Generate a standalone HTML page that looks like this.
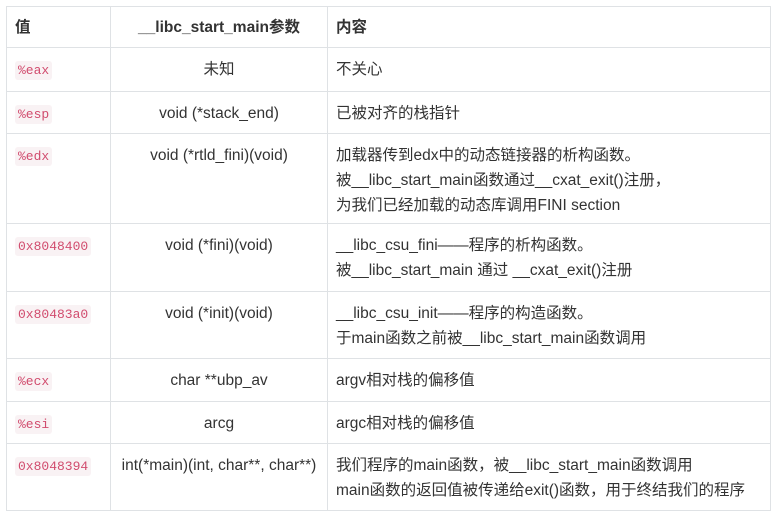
<!DOCTYPE html>
<html><head><meta charset="utf-8"><style>
html,body{margin:0;padding:0;background:#fff;width:775px;height:518px;overflow:hidden}
table{position:absolute;left:6px;top:6px;border-collapse:collapse;font-family:"Liberation Sans","Noto Sans CJK SC",sans-serif;font-size:15.5px;color:#333;table-layout:fixed;width:764px}
td,th{border:1px solid #dfe2e5;padding:9px 8px 0 8px;line-height:25px;vertical-align:top;white-space:nowrap;overflow:hidden;box-sizing:border-box}
th{font-weight:bold;height:41px;vertical-align:middle;padding:0 8px}
td.c,th.c{text-align:center}
th.l{text-align:left}
code{font-family:"Liberation Mono",monospace;font-size:13px;color:#d14c6e;background:#f9f2f4;padding:2px 3px;border-radius:3px}
</style></head><body>
<table>
<colgroup><col style="width:104px"><col style="width:217px"><col style="width:443px"></colgroup>
<tr style="height:41px"><th class="l">值</th><th class="c">__libc_start_main参数</th><th class="l">内容</th></tr>
<tr style="height:44px"><td><code>%eax</code></td><td class="c">未知</td><td>不关心</td></tr>
<tr style="height:42px"><td><code>%esp</code></td><td class="c">void (*stack_end)</td><td>已被对齐的栈指针</td></tr>
<tr style="height:90px"><td><code>%edx</code></td><td class="c">void (*rtld_fini)(void)</td><td>加载器传到edx中的动态链接器的析构函数。<br>被__libc_start_main函数通过__cxat_exit()注册，<br>为我们已经加载的动态库调用FINI section</td></tr>
<tr style="height:68px"><td><code>0x8048400</code></td><td class="c">void (*fini)(void)</td><td>__libc_csu_fini——程序的析构函数。<br>被__libc_start_main 通过 __cxat_exit()注册</td></tr>
<tr style="height:67px"><td><code>0x80483a0</code></td><td class="c">void (*init)(void)</td><td>__libc_csu_init——程序的构造函数。<br>于main函数之前被__libc_start_main函数调用</td></tr>
<tr style="height:43px"><td><code>%ecx</code></td><td class="c">char **ubp_av</td><td>argv相对栈的偏移值</td></tr>
<tr style="height:42px"><td><code>%esi</code></td><td class="c">arcg</td><td>argc相对栈的偏移值</td></tr>
<tr style="height:67px"><td><code>0x8048394</code></td><td class="c" style="padding-left:2px;padding-right:2px">int(*main)(int, char**, char**)</td><td>我们程序的main函数，被__libc_start_main函数调用<br>main函数的返回值被传递给exit()函数，用于终结我们的程序</td></tr>
</table>
</body></html>
